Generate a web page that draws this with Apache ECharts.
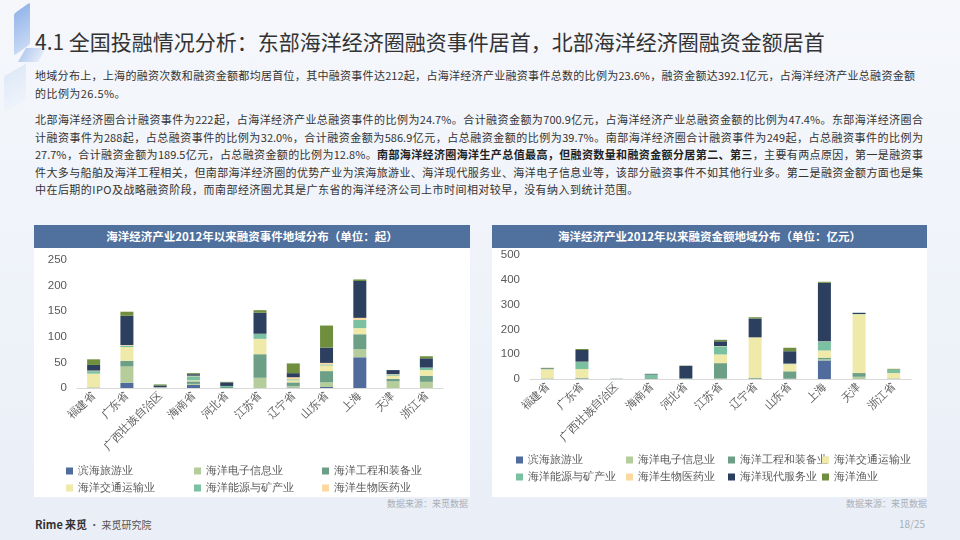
<!DOCTYPE html>
<html>
<head>
<meta charset="utf-8">
<script src="https://cdn.jsdelivr.net/npm/echarts@6/dist/echarts.min.js"></script>
<style>
  html,body{margin:0;padding:0;}
  body{width:960px;height:540px;overflow:hidden;position:relative;
    font-family:"Noto Sans CJK SC","Noto Sans",sans-serif;
    background:linear-gradient(180deg,#f5f7fb 0%,#eef2f9 60%,#e9eef7 100%);}
  .deco1{position:absolute;left:14px;top:8px;width:16px;height:42px;transform:skewY(-35deg);
    background:linear-gradient(180deg,#7fa6e6,#bcd2f3);opacity:.8;border-radius:2px;}
  .deco2{position:absolute;left:22px;top:48px;width:20px;height:14px;transform:skewX(-30deg);
    background:linear-gradient(90deg,#9ebbec,#d9e5f7);opacity:.7;}
  .deco3{position:absolute;left:4px;top:70px;width:22px;height:36px;transform:skewY(-30deg);
    background:linear-gradient(180deg,#dbe6f7,#eef3fb);opacity:.8;}
  .title{position:absolute;left:35px;top:30px;font-size:21px;line-height:22px;color:#333;white-space:nowrap;}
  .line{position:absolute;left:35px;font-size:11px;line-height:17px;height:17px;color:#333;
    letter-spacing:0;white-space:nowrap;}
  .j{text-align:justify;text-align-last:justify;white-space:normal;overflow:hidden;}
  .line b{font-weight:700;color:#222;}
  .sp{letter-spacing:0.45px;}
  .panel{position:absolute;top:225px;height:272px;background:#fff;}
  .pt{height:23px;line-height:23px;background:#50709d;color:#fff;font-weight:700;font-size:11.5px;text-align:center;}
  .chart{position:absolute;left:0;top:23px;width:100%;height:249px;}
  .src{position:absolute;top:497px;font-size:9px;color:#aab0b8;text-align:right;}
  .foot{position:absolute;left:35px;top:516px;font-size:10px;color:#555;}
  .foot .r{font-weight:700;font-size:11px;color:#333;}
  .page{position:absolute;right:35px;top:516px;font-size:10px;color:#aab0b8;}
</style>
</head>
<body>
<div class="deco3"></div><div class="deco1"></div><div class="deco2"></div>
<div class="title">4.1 全国投融情况分析：东部海洋经济圈融资事件居首，北部海洋经济圈融资金额居首</div>

<div class="line j" style="top:67px;width:880px;">地域分布上，上海的融资次数和融资金额都均居首位，其中融资事件达212起，占海洋经济产业融资事件总数的比例为23.6%，融资金额达392.1亿元，占海洋经济产业总融资金额</div>
<div class="line sp" style="top:85px;">的比例为26.5%。</div>

<div class="line j" style="top:111px;width:888px;">北部海洋经济圈合计融资事件为222起，占海洋经济产业总融资事件的比例为24.7%。合计融资金额为700.9亿元，占海洋经济产业总融资金额的比例为47.4%。东部海洋经济圈合</div>
<div class="line j" style="top:128.5px;width:888px;">计融资事件为288起，占总融资事件的比例为32.0%，合计融资金额为586.9亿元，占总融资金额的比例为39.7%。南部海洋经济圈合计融资事件为249起，占总融资事件的比例为</div>
<div class="line j" style="top:146px;width:888px;">27.7%，合计融资金额为189.5亿元，占总融资金额的比例为12.8%。<b>南部海洋经济圈海洋生产总值最高，但融资数量和融资金额分居第二、第三</b>，主要有两点原因，第一是融资事</div>
<div class="line j" style="top:163.5px;width:888px;">件大多与船舶及海洋工程相关，但南部海洋经济圈的优势产业为滨海旅游业、海洋现代服务业、海洋电子信息业等，该部分融资事件不如其他行业多。第二是融资金额方面也是集</div>
<div class="line sp" style="top:181px;">中在后期的IPO及战略融资阶段，而南部经济圈尤其是广东省的海洋经济公司上市时间相对较早，没有纳入到统计范围。</div>

<div class="panel" style="left:34px;width:436px;">
  <div class="pt">海洋经济产业2012年以来融资事件地域分布（单位：起）</div>
  <div class="chart" id="c1"></div>
</div>
<div class="panel" style="left:492px;width:435px;">
  <div class="pt">海洋经济产业2012年以来融资金额地域分布（单位：亿元）</div>
  <div class="chart" id="c2"></div>
</div>
<div class="src" style="left:300px;width:168px;">数据来源：来觅数据</div>
<div class="src" style="left:759px;width:168px;">数据来源：来觅数据</div>
<div class="foot"><span class="r">Rime</span> <span class="r">来觅</span> · 来觅研究院</div>
<div class="page">18/25</div>

<script>
const categories = ['福建省','广东省','广西壮族自治区','海南省','河北省','江苏省','辽宁省','山东省','上海','天津','浙江省'];
const seriesNames = ['滨海旅游业','海洋电子信息业','海洋工程和装备业','海洋交通运输业','海洋能源与矿产业','海洋生物医药业','海洋现代服务业','海洋渔业'];
const colors = ['#4f6c9c','#b5cd9b','#6c9f86','#efe9aa','#7cc0a2','#fbd9a0','#2c3f5f','#6f8f3e'];

// 融资事件（起）
const evTourism   = [0,10,1,6,0,0,1,2,60,0,0];
const evElec      = [0,32,1,2,0,20,3,9,16,13,12];
const evEng       = [1,11,0,5,2,46,7,22,29,5,12];
const evTransport = [27,27,0,2,0,30,4,11,12,6,11];
const evEnergy    = [5,3,0,8,2,10,2,2,16,2,5];
const evBio       = [1,1,0,1,0,0,4,3,4,1,0];
const evService   = [11,57,3,3,7,41,8,30,72,8,18];
const evFishery   = [11,8,2,2,1,5,19,43,3,0,4];

// 融资金额（亿元）
const amTourism   = [0,1,0,0,0,0,0,0,75,0,0];
const amElec      = [0,1,0,1,0,2,1,1,4,9,0];
const amEng       = [2,3,0.5,3,3,62,4,30,7,15,2];
const amTransport = [37,35,0,0,0,35,162,29,29,237,22];
const amEnergy    = [2,29,0,14,0,33,0,1,36,1,14];
const amBio       = [0,1,0,0,0,1,1,1,1,0,0];
const amService   = [2,47,0.5,2,50,19,76,50,236,5,0];
const amFishery   = [2,4,0,1,1,6,5,14,4,0,3];

const yTicks1 = {min:0,max:250,interval:50};
const yTicks2 = {min:0,max:500,interval:100};

function legendCol(left, top, names){
  return {left:left, top:top, orient:'vertical', padding:0, itemGap:3,
    itemWidth:7, itemHeight:7, icon:'rect', data:names,
    textStyle:{fontSize:11, color:'#595959', lineHeight:14}};
}

function build(el, data, ticks, grid, legends){
  const chart = echarts.init(document.getElementById(el));
  chart.setOption({
    animation:false,
    color:colors,
    grid:grid,
    legend:legends,
    xAxis:{type:'category', data:categories,
      axisLine:{lineStyle:{color:'#d9d9d9'}}, axisTick:{show:false},
      axisLabel:{rotate:45, fontSize:11, color:'#595959', interval:0, margin:6}},
    yAxis:{type:'value', min:ticks.min, max:ticks.max, interval:ticks.interval,
      axisLine:{show:false}, axisTick:{show:false}, splitLine:{show:false},
      axisLabel:{fontSize:11.5, color:'#595959', margin:10}},
    series:seriesNames.map((n,i)=>({name:n, type:'bar', stack:'s', barWidth:13, data:data[i]}))
  });
}

build('c1',
  [evTourism,evElec,evEng,evTransport,evEnergy,evBio,evService,evFishery],
  yTicks1,
  {left:43, right:27, top:12, bottom:109},
  [legendCol(32,216,['滨海旅游业','海洋交通运输业']),
   legendCol(160,216,['海洋电子信息业','海洋能源与矿产业']),
   legendCol(288,216,['海洋工程和装备业','海洋生物医药业'])]);

build('c2',
  [amTourism,amElec,amEng,amTransport,amEnergy,amBio,amService,amFishery],
  yTicks2,
  {left:38, right:16, top:7, bottom:118},
  [legendCol(24,205,['滨海旅游业','海洋能源与矿产业']),
   legendCol(134,205,['海洋电子信息业','海洋生物医药业']),
   legendCol(236,205,['海洋工程和装备业','海洋现代服务业']),
   legendCol(330,205,['海洋交通运输业','海洋渔业'])]);
</script>
</body>
</html>
